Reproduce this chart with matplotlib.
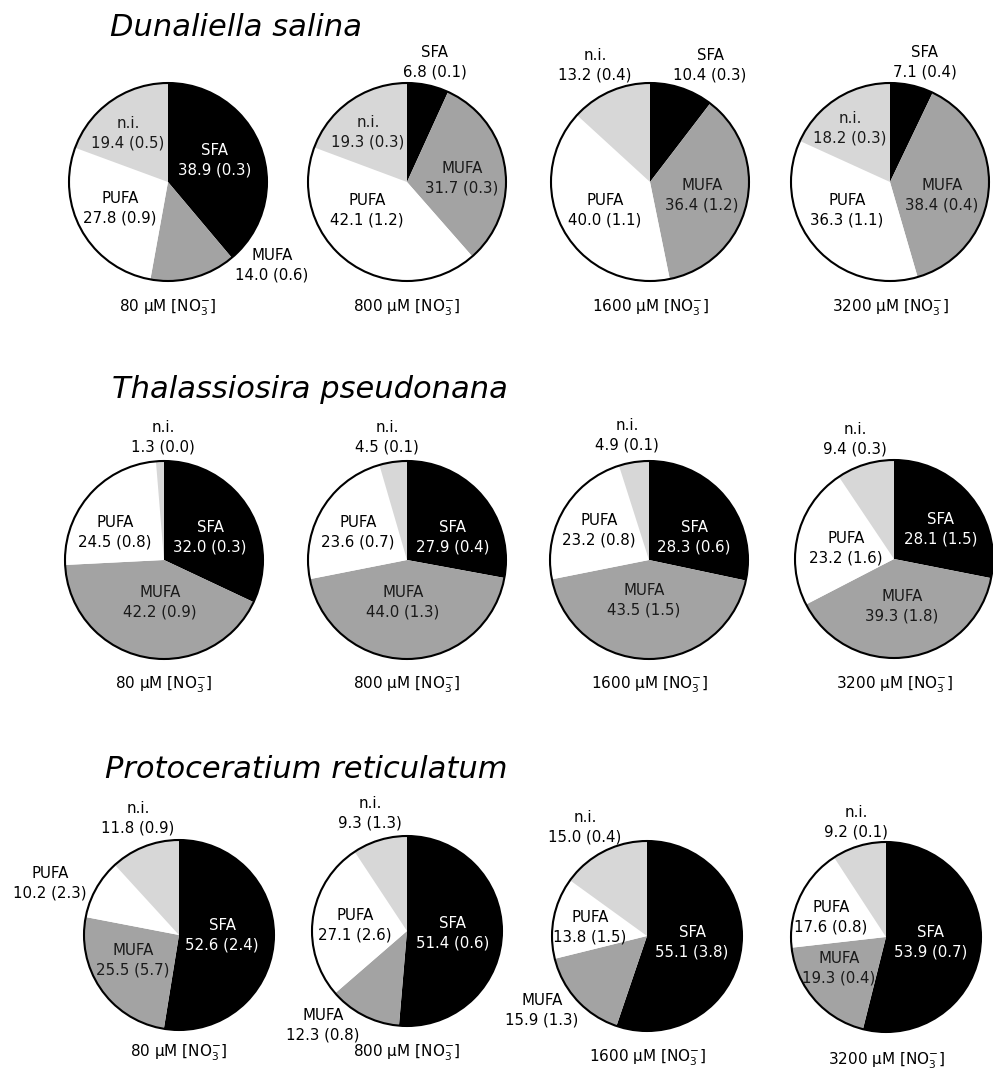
import matplotlib
matplotlib.use("Agg")
import matplotlib.pyplot as plt
from matplotlib.patches import Circle

# Fatty acid composition (% of total fatty acids), mean and (SE)
species = ["Dunaliella salina", "Thalassiosira pseudonana", "Protoceratium reticulatum"]
nitrate = ["80", "800", "1600", "3200"]
classes = ["SFA", "MUFA", "PUFA", "n.i."]

dun_sfa = [38.9, 6.8, 10.4, 7.1]
dun_mufa = [14.0, 31.7, 36.4, 38.4]
dun_pufa = [27.8, 42.1, 40.0, 36.3]
dun_ni = [19.4, 19.3, 13.2, 18.2]
dun_sfa_se = [0.3, 0.1, 0.3, 0.4]
dun_mufa_se = [0.6, 0.3, 1.2, 0.4]
dun_pufa_se = [0.9, 1.2, 1.1, 1.1]
dun_ni_se = [0.5, 0.3, 0.4, 0.3]

tha_sfa = [32.0, 27.9, 28.3, 28.1]
tha_mufa = [42.2, 44.0, 43.5, 39.3]
tha_pufa = [24.5, 23.6, 23.2, 23.2]
tha_ni = [1.3, 4.5, 4.9, 9.4]
tha_sfa_se = [0.3, 0.4, 0.6, 1.5]
tha_mufa_se = [0.9, 1.3, 1.5, 1.8]
tha_pufa_se = [0.8, 0.7, 0.8, 1.6]
tha_ni_se = [0.0, 0.1, 0.1, 0.3]

pro_sfa = [52.6, 51.4, 55.1, 53.9]
pro_mufa = [25.5, 12.3, 15.9, 19.3]
pro_pufa = [10.2, 27.1, 13.8, 17.6]
pro_ni = [11.8, 9.3, 15.0, 9.2]
pro_sfa_se = [2.4, 0.6, 3.8, 0.7]
pro_mufa_se = [5.7, 0.8, 1.3, 0.4]
pro_pufa_se = [2.3, 2.6, 1.5, 0.8]
pro_ni_se = [0.9, 1.3, 0.4, 0.1]

means = [
    [dun_sfa, dun_mufa, dun_pufa, dun_ni],
    [tha_sfa, tha_mufa, tha_pufa, tha_ni],
    [pro_sfa, pro_mufa, pro_pufa, pro_ni],
]
errors = [
    [dun_sfa_se, dun_mufa_se, dun_pufa_se, dun_ni_se],
    [tha_sfa_se, tha_mufa_se, tha_pufa_se, tha_ni_se],
    [pro_sfa_se, pro_mufa_se, pro_pufa_se, pro_ni_se],
]

# ---- layout (pixel units, origin top-left) ----
W, H = 993, 1071
colors = ["#000000", "#a3a3a3", "#ffffff", "#d7d7d7"]
text_colors = ["white", "#1a1a1a", "black", "#1a1a1a"]

centers = [
    [(168, 182), (407, 182), (650, 182), (890, 182)],
    [(164, 560), (407, 560), (649, 560), (894, 559)],
    [(179, 935), (407, 931), (647, 936), (886, 937)],
]
radii = [99, 99, 95]
title_pos = [(110, 27), (112, 390), (105, 770)]
caption_y = [
    [308, 308, 308, 308],
    [685, 685, 685, 685],
    [1053, 1053, 1058, 1061],
]
# label offsets from pie centre (dx, dy) for SFA, MUFA, PUFA, n.i.
label_off = [
    [
        [(47, -22), (104, 83), (-48, 26), (-40, -49)],
        [(28, -120), (55, -4), (-40, 28), (-39, -50)],
        [(60, -117), (52, 13), (-45, 28), (-55, -117)],
        [(35, -120), (52, 13), (-43, 28), (-40, -54)],
    ],
    [
        [(46, -23), (-4, 42), (-49, -28), (-1, -123)],
        [(46, -23), (-4, 42), (-49, -28), (-20, -123)],
        [(45, -23), (-5, 40), (-50, -30), (-22, -125)],
        [(47, -30), (8, 47), (-48, -11), (-39, -120)],
    ],
    [
        [(43, 0), (-46, 25), (-129, -52), (-41, -117)],
        [(46, 2), (-84, 94), (-52, -6), (-37, -118)],
        [(45, 6), (-105, 74), (-57, -9), (-62, -109)],
        [(45, 5), (-47, 31), (-55, -20), (-30, -115)],
    ],
]
# labels outside the circle are drawn in black
outside = [
    [[False, True, False, False], [True, False, False, False],
     [True, False, False, True], [True, False, False, False]],
    [[False, False, False, True], [False, False, False, True],
     [False, False, False, True], [False, False, False, True]],
    [[False, False, True, True], [False, True, False, True],
     [False, True, False, True], [False, False, False, True]],
]

plt.rcParams["font.family"] = ["DejaVu Sans"]
fig = plt.figure(figsize=(W / 100, H / 100), dpi=100)
ax = fig.add_axes([0, 0, 1, 1])

for r in range(3):
    for c in range(4):
        cx, cy = centers[r][c]
        Y = H - cy
        vals = [means[r][k][c] for k in range(4)]
        ax.pie(vals, colors=colors, startangle=90, counterclock=False,
               center=(cx, Y), radius=radii[r],
               wedgeprops=dict(linewidth=0, antialiased=True))
        ax.add_patch(Circle((cx, Y), radii[r], fill=False, lw=1.5,
                            edgecolor="black", zorder=5))
        for k in range(4):
            dx, dy = label_off[r][c][k]
            txt = f"{classes[k]}\n{means[r][k][c]:.1f} ({errors[r][k][c]:.1f})"
            col = "black" if outside[r][c][k] else text_colors[k]
            ax.text(cx + dx, Y - dy, txt, ha="center", va="center",
                    fontsize=10.8, color=col, linespacing=1.4, zorder=6)
        ax.text(cx, H - caption_y[r][c], nitrate[c] + r" μM [NO$_3^{-}$]",
                ha="center", va="center", fontsize=11, zorder=6)
    tx, ty = title_pos[r]
    ax.text(tx, H - ty, species[r], ha="left", va="center",
            fontsize=22, style="italic", zorder=6)

ax.set_xlim(0, W)
ax.set_ylim(0, H)
ax.set_aspect("equal")
ax.axis("off")
fig.savefig("out.png", dpi=100)
